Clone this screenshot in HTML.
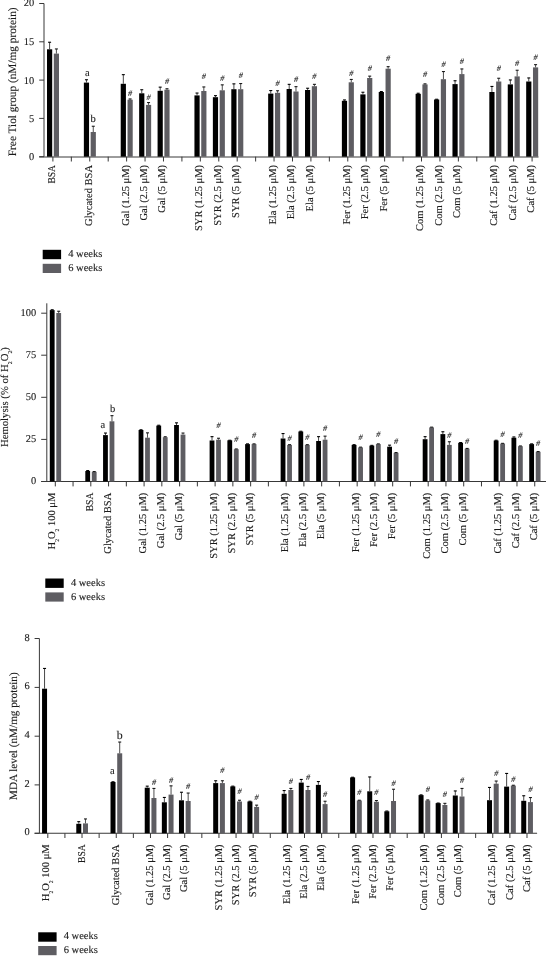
<!DOCTYPE html>
<html><head><meta charset="utf-8"><style>
html,body{margin:0;padding:0;background:#fff;}
svg{display:block;filter:blur(0.35px);}
text{font-family:"Liberation Serif", serif;stroke:#222;stroke-width:0.12px;text-rendering:geometricPrecision;}
</style></head><body>
<svg width="546" height="956" viewBox="0 0 546 956">
<rect width="546" height="956" fill="#fff"/>
<path d="M44.0 3.5V156.7" stroke="#383838" stroke-width="1"/>
<path d="M39.2 157.0H538.5" stroke="#383838" stroke-width="1"/>
<path d="M39.2 156.7H44.0" stroke="#383838" stroke-width="1"/>
<text x="34.2" y="160.3" font-size="10.4" text-anchor="end" fill="#1a1a1a">0</text>
<path d="M39.2 118.4H44.0" stroke="#383838" stroke-width="1"/>
<text x="34.2" y="122" font-size="10.4" text-anchor="end" fill="#1a1a1a">5</text>
<path d="M39.2 80.1H44.0" stroke="#383838" stroke-width="1"/>
<text x="34.2" y="83.7" font-size="10.4" text-anchor="end" fill="#1a1a1a">10</text>
<path d="M39.2 41.8H44.0" stroke="#383838" stroke-width="1"/>
<text x="34.2" y="45.4" font-size="10.4" text-anchor="end" fill="#1a1a1a">15</text>
<path d="M39.2 3.5H44.0" stroke="#383838" stroke-width="1"/>
<text x="34.2" y="5.6" font-size="10.4" text-anchor="end" fill="#1a1a1a">20</text>
<text transform="translate(15.8,81.8) rotate(-90)" text-anchor="middle" font-size="11.3" fill="#1a1a1a">Free Tiol group (nM/mg protein)</text>
<path d="M52.9 156.7V161.5" stroke="#383838" stroke-width="1"/>
<path d="M71.33 156.7V161.5" stroke="#383838" stroke-width="1"/>
<path d="M89.76 156.7V161.5" stroke="#383838" stroke-width="1"/>
<path d="M108.19 156.7V161.5" stroke="#383838" stroke-width="1"/>
<path d="M126.62 156.7V161.5" stroke="#383838" stroke-width="1"/>
<path d="M145.05 156.7V161.5" stroke="#383838" stroke-width="1"/>
<path d="M163.48 156.7V161.5" stroke="#383838" stroke-width="1"/>
<path d="M181.91 156.7V161.5" stroke="#383838" stroke-width="1"/>
<path d="M200.34 156.7V161.5" stroke="#383838" stroke-width="1"/>
<path d="M218.77 156.7V161.5" stroke="#383838" stroke-width="1"/>
<path d="M237.2 156.7V161.5" stroke="#383838" stroke-width="1"/>
<path d="M255.63 156.7V161.5" stroke="#383838" stroke-width="1"/>
<path d="M274.06 156.7V161.5" stroke="#383838" stroke-width="1"/>
<path d="M292.49 156.7V161.5" stroke="#383838" stroke-width="1"/>
<path d="M310.92 156.7V161.5" stroke="#383838" stroke-width="1"/>
<path d="M329.35 156.7V161.5" stroke="#383838" stroke-width="1"/>
<path d="M347.78 156.7V161.5" stroke="#383838" stroke-width="1"/>
<path d="M366.21 156.7V161.5" stroke="#383838" stroke-width="1"/>
<path d="M384.64 156.7V161.5" stroke="#383838" stroke-width="1"/>
<path d="M403.07 156.7V161.5" stroke="#383838" stroke-width="1"/>
<path d="M421.5 156.7V161.5" stroke="#383838" stroke-width="1"/>
<path d="M439.93 156.7V161.5" stroke="#383838" stroke-width="1"/>
<path d="M458.36 156.7V161.5" stroke="#383838" stroke-width="1"/>
<path d="M476.79 156.7V161.5" stroke="#383838" stroke-width="1"/>
<path d="M495.22 156.7V161.5" stroke="#383838" stroke-width="1"/>
<path d="M513.65 156.7V161.5" stroke="#383838" stroke-width="1"/>
<path d="M532.08 156.7V161.5" stroke="#383838" stroke-width="1"/>
<rect x="47" y="49.3" width="5.2" height="107.4" fill="#000"/>
<path d="M49.6 49.3V42.25" stroke="#333" stroke-width="0.9" fill="none"/>
<path d="M48.1 42.25H51.1" stroke="#000" stroke-width="1.1" fill="none"/>
<rect x="53.8" y="53.6" width="5.2" height="103.1" fill="#5e5d62"/>
<path d="M56.4 53.6V48.95" stroke="#3a3a3a" stroke-width="0.9" fill="none"/>
<path d="M54.9 48.95H57.9" stroke="#1a1a1a" stroke-width="1.1" fill="none"/>
<rect x="83.86" y="82.6" width="5.2" height="74.1" fill="#000"/>
<path d="M86.46 82.6V79.75" stroke="#333" stroke-width="0.9" fill="none"/>
<path d="M84.96 79.75H87.96" stroke="#000" stroke-width="1.1" fill="none"/>
<rect x="90.66" y="132" width="5.2" height="24.7" fill="#5e5d62"/>
<path d="M93.26 132V126.25" stroke="#3a3a3a" stroke-width="0.9" fill="none"/>
<path d="M91.76 126.25H94.76" stroke="#1a1a1a" stroke-width="1.1" fill="none"/>
<rect x="120.72" y="83.8" width="5.2" height="72.9" fill="#000"/>
<path d="M123.32 83.8V74.65" stroke="#333" stroke-width="0.9" fill="none"/>
<path d="M121.82 74.65H124.82" stroke="#000" stroke-width="1.1" fill="none"/>
<rect x="127.52" y="99.7" width="5.2" height="57" fill="#5e5d62"/>
<path d="M130.12 99.7V98.95" stroke="#3a3a3a" stroke-width="0.9" fill="none"/>
<path d="M128.62 98.95H131.62" stroke="#1a1a1a" stroke-width="1.1" fill="none"/>
<text x="130.12" y="95.6" font-size="8.2" text-anchor="middle" font-style="italic" fill="#2a2a2a" stroke="none">#</text>
<rect x="139.15" y="93.3" width="5.2" height="63.4" fill="#000"/>
<path d="M141.75 93.3V89.75" stroke="#333" stroke-width="0.9" fill="none"/>
<path d="M140.25 89.75H143.25" stroke="#000" stroke-width="1.1" fill="none"/>
<rect x="145.95" y="104.9" width="5.2" height="51.8" fill="#5e5d62"/>
<path d="M148.55 104.9V102.55" stroke="#3a3a3a" stroke-width="0.9" fill="none"/>
<path d="M147.05 102.55H150.05" stroke="#1a1a1a" stroke-width="1.1" fill="none"/>
<text x="148.55" y="99.8" font-size="8.2" text-anchor="middle" font-style="italic" fill="#2a2a2a" stroke="none">#</text>
<rect x="157.58" y="90.8" width="5.2" height="65.9" fill="#000"/>
<path d="M160.18 90.8V87.15" stroke="#333" stroke-width="0.9" fill="none"/>
<path d="M158.68 87.15H161.68" stroke="#000" stroke-width="1.1" fill="none"/>
<rect x="164.38" y="89.7" width="5.2" height="67" fill="#5e5d62"/>
<path d="M166.98 89.7V88.75" stroke="#3a3a3a" stroke-width="0.9" fill="none"/>
<path d="M165.48 88.75H168.48" stroke="#1a1a1a" stroke-width="1.1" fill="none"/>
<text x="166.98" y="83.8" font-size="8.2" text-anchor="middle" font-style="italic" fill="#2a2a2a" stroke="none">#</text>
<rect x="194.44" y="95.4" width="5.2" height="61.3" fill="#000"/>
<path d="M197.04 95.4V93.05" stroke="#333" stroke-width="0.9" fill="none"/>
<path d="M195.54 93.05H198.54" stroke="#000" stroke-width="1.1" fill="none"/>
<rect x="201.24" y="91" width="5.2" height="65.7" fill="#5e5d62"/>
<path d="M203.84 91V86.95" stroke="#3a3a3a" stroke-width="0.9" fill="none"/>
<path d="M202.34 86.95H205.34" stroke="#1a1a1a" stroke-width="1.1" fill="none"/>
<text x="203.84" y="79.2" font-size="8.2" text-anchor="middle" font-style="italic" fill="#2a2a2a" stroke="none">#</text>
<rect x="212.87" y="97.2" width="5.2" height="59.5" fill="#000"/>
<path d="M215.47 97.2V95.65" stroke="#333" stroke-width="0.9" fill="none"/>
<path d="M213.97 95.65H216.97" stroke="#000" stroke-width="1.1" fill="none"/>
<rect x="219.67" y="90.3" width="5.2" height="66.4" fill="#5e5d62"/>
<path d="M222.27 90.3V84.85" stroke="#3a3a3a" stroke-width="0.9" fill="none"/>
<path d="M220.77 84.85H223.77" stroke="#1a1a1a" stroke-width="1.1" fill="none"/>
<text x="222.27" y="81" font-size="8.2" text-anchor="middle" font-style="italic" fill="#2a2a2a" stroke="none">#</text>
<rect x="231.3" y="89.2" width="5.2" height="67.5" fill="#000"/>
<path d="M233.9 89.2V83.85" stroke="#333" stroke-width="0.9" fill="none"/>
<path d="M232.4 83.85H235.4" stroke="#000" stroke-width="1.1" fill="none"/>
<rect x="238.1" y="89.2" width="5.2" height="67.5" fill="#5e5d62"/>
<path d="M240.7 89.2V83.55" stroke="#3a3a3a" stroke-width="0.9" fill="none"/>
<path d="M239.2 83.55H242.2" stroke="#1a1a1a" stroke-width="1.1" fill="none"/>
<text x="240.7" y="78.4" font-size="8.2" text-anchor="middle" font-style="italic" fill="#2a2a2a" stroke="none">#</text>
<rect x="268.16" y="93.6" width="5.2" height="63.1" fill="#000"/>
<path d="M270.76 93.6V90.55" stroke="#333" stroke-width="0.9" fill="none"/>
<path d="M269.26 90.55H272.26" stroke="#000" stroke-width="1.1" fill="none"/>
<rect x="274.96" y="92.8" width="5.2" height="63.9" fill="#5e5d62"/>
<path d="M277.56 92.8V90.75" stroke="#3a3a3a" stroke-width="0.9" fill="none"/>
<path d="M276.06 90.75H279.06" stroke="#1a1a1a" stroke-width="1.1" fill="none"/>
<text x="277.56" y="86.1" font-size="8.2" text-anchor="middle" font-style="italic" fill="#2a2a2a" stroke="none">#</text>
<rect x="286.59" y="89" width="5.2" height="67.7" fill="#000"/>
<path d="M289.19 89V84.35" stroke="#333" stroke-width="0.9" fill="none"/>
<path d="M287.69 84.35H290.69" stroke="#000" stroke-width="1.1" fill="none"/>
<rect x="293.39" y="91.5" width="5.2" height="65.2" fill="#5e5d62"/>
<path d="M295.99 91.5V86.65" stroke="#3a3a3a" stroke-width="0.9" fill="none"/>
<path d="M294.49 86.65H297.49" stroke="#1a1a1a" stroke-width="1.1" fill="none"/>
<text x="295.99" y="81.8" font-size="8.2" text-anchor="middle" font-style="italic" fill="#2a2a2a" stroke="none">#</text>
<rect x="305.02" y="90" width="5.2" height="66.7" fill="#000"/>
<path d="M307.62 90V88.25" stroke="#333" stroke-width="0.9" fill="none"/>
<path d="M306.12 88.25H309.12" stroke="#000" stroke-width="1.1" fill="none"/>
<rect x="311.82" y="86.2" width="5.2" height="70.5" fill="#5e5d62"/>
<path d="M314.42 86.2V84.35" stroke="#3a3a3a" stroke-width="0.9" fill="none"/>
<path d="M312.92 84.35H315.92" stroke="#1a1a1a" stroke-width="1.1" fill="none"/>
<text x="314.42" y="78.7" font-size="8.2" text-anchor="middle" font-style="italic" fill="#2a2a2a" stroke="none">#</text>
<rect x="341.88" y="100.8" width="5.2" height="55.9" fill="#000"/>
<path d="M344.48 100.8V99.95" stroke="#333" stroke-width="0.9" fill="none"/>
<path d="M342.98 99.95H345.98" stroke="#000" stroke-width="1.1" fill="none"/>
<rect x="348.68" y="82.3" width="5.2" height="74.4" fill="#5e5d62"/>
<path d="M351.28 82.3V79.45" stroke="#3a3a3a" stroke-width="0.9" fill="none"/>
<path d="M349.78 79.45H352.78" stroke="#1a1a1a" stroke-width="1.1" fill="none"/>
<text x="351.28" y="76.1" font-size="8.2" text-anchor="middle" font-style="italic" fill="#2a2a2a" stroke="none">#</text>
<rect x="360.31" y="94.4" width="5.2" height="62.3" fill="#000"/>
<path d="M362.91 94.4V92.25" stroke="#333" stroke-width="0.9" fill="none"/>
<path d="M361.41 92.25H364.41" stroke="#000" stroke-width="1.1" fill="none"/>
<rect x="367.11" y="78" width="5.2" height="78.7" fill="#5e5d62"/>
<path d="M369.71 78V76.15" stroke="#3a3a3a" stroke-width="0.9" fill="none"/>
<path d="M368.21 76.15H371.21" stroke="#1a1a1a" stroke-width="1.1" fill="none"/>
<text x="369.71" y="70.5" font-size="8.2" text-anchor="middle" font-style="italic" fill="#2a2a2a" stroke="none">#</text>
<rect x="378.74" y="92" width="5.2" height="64.7" fill="#000"/>
<path d="M381.34 92V91.55" stroke="#333" stroke-width="0.9" fill="none"/>
<path d="M379.84 91.55H382.84" stroke="#000" stroke-width="1.1" fill="none"/>
<rect x="385.54" y="68.7" width="5.2" height="88" fill="#5e5d62"/>
<path d="M388.14 68.7V66.65" stroke="#3a3a3a" stroke-width="0.9" fill="none"/>
<path d="M386.64 66.65H389.64" stroke="#1a1a1a" stroke-width="1.1" fill="none"/>
<text x="388.14" y="61.3" font-size="8.2" text-anchor="middle" font-style="italic" fill="#2a2a2a" stroke="none">#</text>
<rect x="415.6" y="93.8" width="5.2" height="62.9" fill="#000"/>
<path d="M418.2 93.8V93.25" stroke="#333" stroke-width="0.9" fill="none"/>
<path d="M416.7 93.25H419.7" stroke="#000" stroke-width="1.1" fill="none"/>
<rect x="422.4" y="84.4" width="5.2" height="72.3" fill="#5e5d62"/>
<path d="M425 84.4V83.85" stroke="#3a3a3a" stroke-width="0.9" fill="none"/>
<path d="M423.5 83.85H426.5" stroke="#1a1a1a" stroke-width="1.1" fill="none"/>
<text x="425" y="76.6" font-size="8.2" text-anchor="middle" font-style="italic" fill="#2a2a2a" stroke="none">#</text>
<rect x="434.03" y="99.5" width="5.2" height="57.2" fill="#000"/>
<path d="M435.13 99.25H438.13" stroke="#000" stroke-width="1.1" fill="none"/>
<rect x="440.83" y="79.2" width="5.2" height="77.5" fill="#5e5d62"/>
<path d="M443.43 79.2V71.55" stroke="#3a3a3a" stroke-width="0.9" fill="none"/>
<path d="M441.93 71.55H444.93" stroke="#1a1a1a" stroke-width="1.1" fill="none"/>
<text x="443.43" y="66.6" font-size="8.2" text-anchor="middle" font-style="italic" fill="#2a2a2a" stroke="none">#</text>
<rect x="452.46" y="84.1" width="5.2" height="72.6" fill="#000"/>
<path d="M455.06 84.1V80.75" stroke="#333" stroke-width="0.9" fill="none"/>
<path d="M453.56 80.75H456.56" stroke="#000" stroke-width="1.1" fill="none"/>
<rect x="459.26" y="74.1" width="5.2" height="82.6" fill="#5e5d62"/>
<path d="M461.86 74.1V68.95" stroke="#3a3a3a" stroke-width="0.9" fill="none"/>
<path d="M460.36 68.95H463.36" stroke="#1a1a1a" stroke-width="1.1" fill="none"/>
<text x="461.86" y="63.8" font-size="8.2" text-anchor="middle" font-style="italic" fill="#2a2a2a" stroke="none">#</text>
<rect x="489.32" y="92" width="5.2" height="64.7" fill="#000"/>
<path d="M491.92 92V86.45" stroke="#333" stroke-width="0.9" fill="none"/>
<path d="M490.42 86.45H493.42" stroke="#000" stroke-width="1.1" fill="none"/>
<rect x="496.12" y="81.5" width="5.2" height="75.2" fill="#5e5d62"/>
<path d="M498.72 81.5V78.25" stroke="#3a3a3a" stroke-width="0.9" fill="none"/>
<path d="M497.22 78.25H500.22" stroke="#1a1a1a" stroke-width="1.1" fill="none"/>
<text x="498.72" y="71" font-size="8.2" text-anchor="middle" font-style="italic" fill="#2a2a2a" stroke="none">#</text>
<rect x="507.75" y="84.4" width="5.2" height="72.3" fill="#000"/>
<path d="M510.35 84.4V79.95" stroke="#333" stroke-width="0.9" fill="none"/>
<path d="M508.85 79.95H511.85" stroke="#000" stroke-width="1.1" fill="none"/>
<rect x="514.55" y="76.4" width="5.2" height="80.3" fill="#5e5d62"/>
<path d="M517.15 76.4V70.25" stroke="#3a3a3a" stroke-width="0.9" fill="none"/>
<path d="M515.65 70.25H518.65" stroke="#1a1a1a" stroke-width="1.1" fill="none"/>
<text x="517.15" y="65.8" font-size="8.2" text-anchor="middle" font-style="italic" fill="#2a2a2a" stroke="none">#</text>
<rect x="526.18" y="81.5" width="5.2" height="75.2" fill="#000"/>
<path d="M528.78 81.5V77.95" stroke="#333" stroke-width="0.9" fill="none"/>
<path d="M527.28 77.95H530.28" stroke="#000" stroke-width="1.1" fill="none"/>
<rect x="532.98" y="67.4" width="5.2" height="89.3" fill="#5e5d62"/>
<path d="M535.58 67.4V64.65" stroke="#3a3a3a" stroke-width="0.9" fill="none"/>
<path d="M534.08 64.65H537.08" stroke="#1a1a1a" stroke-width="1.1" fill="none"/>
<text x="535.58" y="60.2" font-size="8.2" text-anchor="middle" font-style="italic" fill="#2a2a2a" stroke="none">#</text>
<text x="87.4" y="76" font-size="10.5" text-anchor="middle" fill="#1a1a1a">a</text>
<text x="93.2" y="121.5" font-size="10.5" text-anchor="middle" fill="#1a1a1a">b</text>
<text transform="translate(54.8,165) rotate(-90)" text-anchor="end" font-size="10.5" fill="#1a1a1a" textLength="18.6" lengthAdjust="spacingAndGlyphs">BSA</text>
<text transform="translate(91.66,165) rotate(-90)" text-anchor="end" font-size="10.5" fill="#1a1a1a">Glycated BSA</text>
<text transform="translate(128.52,165) rotate(-90)" text-anchor="end" font-size="10.5" fill="#1a1a1a">Gal (1.25 μM)</text>
<text transform="translate(146.95,165) rotate(-90)" text-anchor="end" font-size="10.5" fill="#1a1a1a">Gal (2.5 μM)</text>
<text transform="translate(165.38,165) rotate(-90)" text-anchor="end" font-size="10.5" fill="#1a1a1a">Gal (5 μM)</text>
<text transform="translate(202.24,165) rotate(-90)" text-anchor="end" font-size="10.5" fill="#1a1a1a">SYR (1.25 μM)</text>
<text transform="translate(220.67,165) rotate(-90)" text-anchor="end" font-size="10.5" fill="#1a1a1a">SYR (2.5 μM)</text>
<text transform="translate(239.1,165) rotate(-90)" text-anchor="end" font-size="10.5" fill="#1a1a1a">SYR (5 μM)</text>
<text transform="translate(275.96,165) rotate(-90)" text-anchor="end" font-size="10.5" fill="#1a1a1a">Ela (1.25 μM)</text>
<text transform="translate(294.39,165) rotate(-90)" text-anchor="end" font-size="10.5" fill="#1a1a1a">Ela (2.5 μM)</text>
<text transform="translate(312.82,165) rotate(-90)" text-anchor="end" font-size="10.5" fill="#1a1a1a">Ela (5 μM)</text>
<text transform="translate(349.68,165) rotate(-90)" text-anchor="end" font-size="10.5" fill="#1a1a1a">Fer (1.25 μM)</text>
<text transform="translate(368.11,165) rotate(-90)" text-anchor="end" font-size="10.5" fill="#1a1a1a">Fer (2.5 μM)</text>
<text transform="translate(386.54,165) rotate(-90)" text-anchor="end" font-size="10.5" fill="#1a1a1a">Fer (5 μM)</text>
<text transform="translate(423.4,165) rotate(-90)" text-anchor="end" font-size="10.5" fill="#1a1a1a">Com (1.25 μM)</text>
<text transform="translate(441.83,165) rotate(-90)" text-anchor="end" font-size="10.5" fill="#1a1a1a">Com (2.5 μM)</text>
<text transform="translate(460.26,165) rotate(-90)" text-anchor="end" font-size="10.5" fill="#1a1a1a">Com (5 μM)</text>
<text transform="translate(497.12,165) rotate(-90)" text-anchor="end" font-size="10.5" fill="#1a1a1a">Caf (1.25 μM)</text>
<text transform="translate(515.55,165) rotate(-90)" text-anchor="end" font-size="10.5" fill="#1a1a1a">Caf (2.5 μM)</text>
<text transform="translate(533.98,165) rotate(-90)" text-anchor="end" font-size="10.5" fill="#1a1a1a">Caf (5 μM)</text>
<rect x="42.7" y="249.8" width="18.4" height="9.4" fill="#000"/>
<rect x="42.7" y="263.8" width="18.4" height="9.2" fill="#5e5d62"/>
<text x="68.2" y="257.4" font-size="10.5" fill="#1a1a1a">4 weeks</text>
<text x="68.2" y="271" font-size="10.5" fill="#1a1a1a">6 weeks</text>
<path d="M46.8 303.3V481.5" stroke="#383838" stroke-width="1"/>
<path d="M41.2 481.5H546" stroke="#383838" stroke-width="1.1"/>
<path d="M41.2 481.5H46.8" stroke="#383838" stroke-width="1"/>
<text x="36.2" y="483.8" font-size="10.4" text-anchor="end" fill="#1a1a1a">0</text>
<path d="M41.2 439.4H46.8" stroke="#383838" stroke-width="1"/>
<text x="36.2" y="441.7" font-size="10.4" text-anchor="end" fill="#1a1a1a">25</text>
<path d="M41.2 397.3H46.8" stroke="#383838" stroke-width="1"/>
<text x="36.2" y="399.6" font-size="10.4" text-anchor="end" fill="#1a1a1a">50</text>
<path d="M41.2 355.2H46.8" stroke="#383838" stroke-width="1"/>
<text x="36.2" y="357.5" font-size="10.4" text-anchor="end" fill="#1a1a1a">75</text>
<path d="M41.2 313.2H46.8" stroke="#383838" stroke-width="1"/>
<text x="36.2" y="315.5" font-size="10.4" text-anchor="end" fill="#1a1a1a">100</text>
<text transform="translate(8.4,397.1) rotate(-90)" text-anchor="middle" font-size="10.7" fill="#1a1a1a">Hemolysis (% of H<tspan font-size="5.8" dy="3.9">2</tspan><tspan dy="-3.9">O</tspan><tspan font-size="5.8" dy="3.9">2</tspan><tspan dy="-3.9">)</tspan></text>
<path d="M55.3 481.5V486.4" stroke="#383838" stroke-width="1"/>
<path d="M73.06 481.5V486.4" stroke="#383838" stroke-width="1"/>
<path d="M90.81 481.5V486.4" stroke="#383838" stroke-width="1"/>
<path d="M108.57 481.5V486.4" stroke="#383838" stroke-width="1"/>
<path d="M126.33 481.5V486.4" stroke="#383838" stroke-width="1"/>
<path d="M144.09 481.5V486.4" stroke="#383838" stroke-width="1"/>
<path d="M161.84 481.5V486.4" stroke="#383838" stroke-width="1"/>
<path d="M179.6 481.5V486.4" stroke="#383838" stroke-width="1"/>
<path d="M197.36 481.5V486.4" stroke="#383838" stroke-width="1"/>
<path d="M215.11 481.5V486.4" stroke="#383838" stroke-width="1"/>
<path d="M232.87 481.5V486.4" stroke="#383838" stroke-width="1"/>
<path d="M250.63 481.5V486.4" stroke="#383838" stroke-width="1"/>
<path d="M268.38 481.5V486.4" stroke="#383838" stroke-width="1"/>
<path d="M286.14 481.5V486.4" stroke="#383838" stroke-width="1"/>
<path d="M303.9 481.5V486.4" stroke="#383838" stroke-width="1"/>
<path d="M321.66 481.5V486.4" stroke="#383838" stroke-width="1"/>
<path d="M339.41 481.5V486.4" stroke="#383838" stroke-width="1"/>
<path d="M357.17 481.5V486.4" stroke="#383838" stroke-width="1"/>
<path d="M374.93 481.5V486.4" stroke="#383838" stroke-width="1"/>
<path d="M392.68 481.5V486.4" stroke="#383838" stroke-width="1"/>
<path d="M410.44 481.5V486.4" stroke="#383838" stroke-width="1"/>
<path d="M428.2 481.5V486.4" stroke="#383838" stroke-width="1"/>
<path d="M445.95 481.5V486.4" stroke="#383838" stroke-width="1"/>
<path d="M463.71 481.5V486.4" stroke="#383838" stroke-width="1"/>
<path d="M481.47 481.5V486.4" stroke="#383838" stroke-width="1"/>
<path d="M499.23 481.5V486.4" stroke="#383838" stroke-width="1"/>
<path d="M516.98 481.5V486.4" stroke="#383838" stroke-width="1"/>
<path d="M534.74 481.5V486.4" stroke="#383838" stroke-width="1"/>
<rect x="49.8" y="310.1" width="4.8" height="171.4" fill="#000"/>
<path d="M52.2 310.1V309.75" stroke="#333" stroke-width="0.9" fill="none"/>
<path d="M50.7 309.75H53.7" stroke="#000" stroke-width="1.1" fill="none"/>
<rect x="56.3" y="313" width="4.8" height="168.5" fill="#5e5d62"/>
<path d="M58.7 313V311.25" stroke="#3a3a3a" stroke-width="0.9" fill="none"/>
<path d="M57.2 311.25H60.2" stroke="#1a1a1a" stroke-width="1.1" fill="none"/>
<rect x="85.31" y="471" width="4.8" height="10.5" fill="#000"/>
<path d="M87.71 471V470.55" stroke="#333" stroke-width="0.9" fill="none"/>
<path d="M86.21 470.55H89.21" stroke="#000" stroke-width="1.1" fill="none"/>
<rect x="91.81" y="471.8" width="4.8" height="9.7" fill="#5e5d62"/>
<path d="M92.71 471.55H95.71" stroke="#1a1a1a" stroke-width="1.1" fill="none"/>
<rect x="103.07" y="435.1" width="4.8" height="46.4" fill="#000"/>
<path d="M105.47 435.1V433.05" stroke="#333" stroke-width="0.9" fill="none"/>
<path d="M103.97 433.05H106.97" stroke="#000" stroke-width="1.1" fill="none"/>
<rect x="109.57" y="421.3" width="4.8" height="60.2" fill="#5e5d62"/>
<path d="M111.97 421.3V415.65" stroke="#3a3a3a" stroke-width="0.9" fill="none"/>
<path d="M110.47 415.65H113.47" stroke="#1a1a1a" stroke-width="1.1" fill="none"/>
<rect x="138.59" y="430" width="4.8" height="51.5" fill="#000"/>
<path d="M139.49 429.75H142.49" stroke="#000" stroke-width="1.1" fill="none"/>
<rect x="145.09" y="437.7" width="4.8" height="43.8" fill="#5e5d62"/>
<path d="M147.49 437.7V432.85" stroke="#3a3a3a" stroke-width="0.9" fill="none"/>
<path d="M145.99 432.85H148.99" stroke="#1a1a1a" stroke-width="1.1" fill="none"/>
<rect x="156.34" y="425.6" width="4.8" height="55.9" fill="#000"/>
<path d="M158.74 425.6V425.25" stroke="#333" stroke-width="0.9" fill="none"/>
<path d="M157.24 425.25H160.24" stroke="#000" stroke-width="1.1" fill="none"/>
<rect x="162.84" y="437.2" width="4.8" height="44.3" fill="#5e5d62"/>
<path d="M165.24 437.2V436.75" stroke="#3a3a3a" stroke-width="0.9" fill="none"/>
<path d="M163.74 436.75H166.74" stroke="#1a1a1a" stroke-width="1.1" fill="none"/>
<rect x="174.1" y="425" width="4.8" height="56.5" fill="#000"/>
<path d="M176.5 425V422.85" stroke="#333" stroke-width="0.9" fill="none"/>
<path d="M175 422.85H178" stroke="#000" stroke-width="1.1" fill="none"/>
<rect x="180.6" y="434.6" width="4.8" height="46.9" fill="#5e5d62"/>
<path d="M183 434.6V433.05" stroke="#3a3a3a" stroke-width="0.9" fill="none"/>
<path d="M181.5 433.05H184.5" stroke="#1a1a1a" stroke-width="1.1" fill="none"/>
<rect x="209.61" y="440.5" width="4.8" height="41" fill="#000"/>
<path d="M212.01 440.5V436.65" stroke="#333" stroke-width="0.9" fill="none"/>
<path d="M210.51 436.65H213.51" stroke="#000" stroke-width="1.1" fill="none"/>
<rect x="216.11" y="439.7" width="4.8" height="41.8" fill="#5e5d62"/>
<path d="M218.51 439.7V438.25" stroke="#3a3a3a" stroke-width="0.9" fill="none"/>
<path d="M217.01 438.25H220.01" stroke="#1a1a1a" stroke-width="1.1" fill="none"/>
<text x="218.51" y="427.7" font-size="8.2" text-anchor="middle" font-style="italic" fill="#2a2a2a" stroke="none">#</text>
<rect x="227.37" y="440.3" width="4.8" height="41.2" fill="#000"/>
<path d="M228.27 440.25H231.27" stroke="#000" stroke-width="1.1" fill="none"/>
<rect x="233.87" y="449.2" width="4.8" height="32.3" fill="#5e5d62"/>
<path d="M234.77 448.95H237.77" stroke="#1a1a1a" stroke-width="1.1" fill="none"/>
<text x="236.27" y="442" font-size="8.2" text-anchor="middle" font-style="italic" fill="#2a2a2a" stroke="none">#</text>
<rect x="245.13" y="444.1" width="4.8" height="37.4" fill="#000"/>
<path d="M246.03 443.85H249.03" stroke="#000" stroke-width="1.1" fill="none"/>
<rect x="251.63" y="444.1" width="4.8" height="37.4" fill="#5e5d62"/>
<path d="M252.53 443.85H255.53" stroke="#1a1a1a" stroke-width="1.1" fill="none"/>
<text x="254.03" y="438.2" font-size="8.2" text-anchor="middle" font-style="italic" fill="#2a2a2a" stroke="none">#</text>
<rect x="280.64" y="438.5" width="4.8" height="43" fill="#000"/>
<path d="M283.04 438.5V433.55" stroke="#333" stroke-width="0.9" fill="none"/>
<path d="M281.54 433.55H284.54" stroke="#000" stroke-width="1.1" fill="none"/>
<rect x="287.14" y="444.9" width="4.8" height="36.6" fill="#5e5d62"/>
<path d="M288.04 444.65H291.04" stroke="#1a1a1a" stroke-width="1.1" fill="none"/>
<text x="289.54" y="440.5" font-size="8.2" text-anchor="middle" font-style="italic" fill="#2a2a2a" stroke="none">#</text>
<rect x="298.4" y="431.5" width="4.8" height="50" fill="#000"/>
<path d="M299.3 431.25H302.3" stroke="#000" stroke-width="1.1" fill="none"/>
<rect x="304.9" y="444.9" width="4.8" height="36.6" fill="#5e5d62"/>
<path d="M305.8 444.65H308.8" stroke="#1a1a1a" stroke-width="1.1" fill="none"/>
<text x="307.3" y="439.5" font-size="8.2" text-anchor="middle" font-style="italic" fill="#2a2a2a" stroke="none">#</text>
<rect x="316.16" y="441" width="4.8" height="40.5" fill="#000"/>
<path d="M318.56 441V436.65" stroke="#333" stroke-width="0.9" fill="none"/>
<path d="M317.06 436.65H320.06" stroke="#000" stroke-width="1.1" fill="none"/>
<rect x="322.66" y="439.7" width="4.8" height="41.8" fill="#5e5d62"/>
<path d="M325.06 439.7V436.15" stroke="#3a3a3a" stroke-width="0.9" fill="none"/>
<path d="M323.56 436.15H326.56" stroke="#1a1a1a" stroke-width="1.1" fill="none"/>
<text x="325.06" y="430.5" font-size="8.2" text-anchor="middle" font-style="italic" fill="#2a2a2a" stroke="none">#</text>
<rect x="351.67" y="444.9" width="4.8" height="36.6" fill="#000"/>
<path d="M352.57 444.65H355.57" stroke="#000" stroke-width="1.1" fill="none"/>
<rect x="358.17" y="447.4" width="4.8" height="34.1" fill="#5e5d62"/>
<path d="M359.07 447.15H362.07" stroke="#1a1a1a" stroke-width="1.1" fill="none"/>
<text x="360.57" y="440" font-size="8.2" text-anchor="middle" font-style="italic" fill="#2a2a2a" stroke="none">#</text>
<rect x="369.43" y="445.6" width="4.8" height="35.9" fill="#000"/>
<path d="M370.33 445.35H373.33" stroke="#000" stroke-width="1.1" fill="none"/>
<rect x="375.93" y="444.1" width="4.8" height="37.4" fill="#5e5d62"/>
<path d="M376.83 443.85H379.83" stroke="#1a1a1a" stroke-width="1.1" fill="none"/>
<text x="378.33" y="436.6" font-size="8.2" text-anchor="middle" font-style="italic" fill="#2a2a2a" stroke="none">#</text>
<rect x="387.18" y="446.7" width="4.8" height="34.8" fill="#000"/>
<path d="M389.58 446.7V445.15" stroke="#333" stroke-width="0.9" fill="none"/>
<path d="M388.08 445.15H391.08" stroke="#000" stroke-width="1.1" fill="none"/>
<rect x="393.68" y="452.8" width="4.8" height="28.7" fill="#5e5d62"/>
<path d="M394.58 452.55H397.58" stroke="#1a1a1a" stroke-width="1.1" fill="none"/>
<text x="396.08" y="443.8" font-size="8.2" text-anchor="middle" font-style="italic" fill="#2a2a2a" stroke="none">#</text>
<rect x="422.7" y="439.2" width="4.8" height="42.3" fill="#000"/>
<path d="M425.1 439.2V436.65" stroke="#333" stroke-width="0.9" fill="none"/>
<path d="M423.6 436.65H426.6" stroke="#000" stroke-width="1.1" fill="none"/>
<rect x="429.2" y="427.4" width="4.8" height="54.1" fill="#5e5d62"/>
<path d="M430.1 427.15H433.1" stroke="#1a1a1a" stroke-width="1.1" fill="none"/>
<rect x="440.45" y="434.1" width="4.8" height="47.4" fill="#000"/>
<path d="M442.85 434.1V431.75" stroke="#333" stroke-width="0.9" fill="none"/>
<path d="M441.35 431.75H444.35" stroke="#000" stroke-width="1.1" fill="none"/>
<rect x="446.95" y="444.9" width="4.8" height="36.6" fill="#5e5d62"/>
<path d="M449.35 444.9V441.75" stroke="#3a3a3a" stroke-width="0.9" fill="none"/>
<path d="M447.85 441.75H450.85" stroke="#1a1a1a" stroke-width="1.1" fill="none"/>
<text x="449.35" y="438.2" font-size="8.2" text-anchor="middle" font-style="italic" fill="#2a2a2a" stroke="none">#</text>
<rect x="458.21" y="442.8" width="4.8" height="38.7" fill="#000"/>
<path d="M459.11 442.55H462.11" stroke="#000" stroke-width="1.1" fill="none"/>
<rect x="464.71" y="448.7" width="4.8" height="32.8" fill="#5e5d62"/>
<path d="M465.61 448.45H468.61" stroke="#1a1a1a" stroke-width="1.1" fill="none"/>
<text x="467.11" y="443.8" font-size="8.2" text-anchor="middle" font-style="italic" fill="#2a2a2a" stroke="none">#</text>
<rect x="493.73" y="440.5" width="4.8" height="41" fill="#000"/>
<path d="M494.62 440.25H497.62" stroke="#000" stroke-width="1.1" fill="none"/>
<rect x="500.23" y="443.6" width="4.8" height="37.9" fill="#5e5d62"/>
<path d="M501.12 443.35H504.12" stroke="#1a1a1a" stroke-width="1.1" fill="none"/>
<text x="502.62" y="437.4" font-size="8.2" text-anchor="middle" font-style="italic" fill="#2a2a2a" stroke="none">#</text>
<rect x="511.48" y="437.7" width="4.8" height="43.8" fill="#000"/>
<path d="M513.88 437.7V436.95" stroke="#333" stroke-width="0.9" fill="none"/>
<path d="M512.38 436.95H515.38" stroke="#000" stroke-width="1.1" fill="none"/>
<rect x="517.98" y="446.2" width="4.8" height="35.3" fill="#5e5d62"/>
<path d="M518.88 445.95H521.88" stroke="#1a1a1a" stroke-width="1.1" fill="none"/>
<text x="520.38" y="437.9" font-size="8.2" text-anchor="middle" font-style="italic" fill="#2a2a2a" stroke="none">#</text>
<rect x="529.24" y="444.1" width="4.8" height="37.4" fill="#000"/>
<path d="M530.14 443.85H533.14" stroke="#000" stroke-width="1.1" fill="none"/>
<rect x="535.74" y="451.8" width="4.8" height="29.7" fill="#5e5d62"/>
<path d="M536.64 451.55H539.64" stroke="#1a1a1a" stroke-width="1.1" fill="none"/>
<text x="538.14" y="445.9" font-size="8.2" text-anchor="middle" font-style="italic" fill="#2a2a2a" stroke="none">#</text>
<text x="102.8" y="428.3" font-size="10.5" text-anchor="middle" fill="#1a1a1a">a</text>
<text x="112.6" y="412" font-size="10.5" text-anchor="middle" fill="#1a1a1a">b</text>
<text transform="translate(55.1,492.7) rotate(-90)" text-anchor="end" font-size="10.5" fill="#1a1a1a">H<tspan font-size="5.6" dy="3.9">2</tspan><tspan dy="-3.9">O</tspan><tspan font-size="5.6" dy="3.9">2</tspan><tspan dy="-3.9"> 100 μM</tspan></text>
<text transform="translate(92.91,492.7) rotate(-90)" text-anchor="end" font-size="10.5" fill="#1a1a1a" textLength="18.6" lengthAdjust="spacingAndGlyphs">BSA</text>
<text transform="translate(110.67,492.7) rotate(-90)" text-anchor="end" font-size="10.5" fill="#1a1a1a">Glycated BSA</text>
<text transform="translate(146.19,492.7) rotate(-90)" text-anchor="end" font-size="10.5" fill="#1a1a1a">Gal (1.25 μM)</text>
<text transform="translate(163.94,492.7) rotate(-90)" text-anchor="end" font-size="10.5" fill="#1a1a1a">Gal (2.5 μM)</text>
<text transform="translate(181.7,492.7) rotate(-90)" text-anchor="end" font-size="10.5" fill="#1a1a1a">Gal (5 μM)</text>
<text transform="translate(217.21,492.7) rotate(-90)" text-anchor="end" font-size="10.5" fill="#1a1a1a">SYR (1.25 μM)</text>
<text transform="translate(234.97,492.7) rotate(-90)" text-anchor="end" font-size="10.5" fill="#1a1a1a">SYR (2.5 μM)</text>
<text transform="translate(252.73,492.7) rotate(-90)" text-anchor="end" font-size="10.5" fill="#1a1a1a">SYR (5 μM)</text>
<text transform="translate(288.24,492.7) rotate(-90)" text-anchor="end" font-size="10.5" fill="#1a1a1a">Ela (1.25 μM)</text>
<text transform="translate(306,492.7) rotate(-90)" text-anchor="end" font-size="10.5" fill="#1a1a1a">Ela (2.5 μM)</text>
<text transform="translate(323.76,492.7) rotate(-90)" text-anchor="end" font-size="10.5" fill="#1a1a1a">Ela (5 μM)</text>
<text transform="translate(359.27,492.7) rotate(-90)" text-anchor="end" font-size="10.5" fill="#1a1a1a">Fer (1.25 μM)</text>
<text transform="translate(377.03,492.7) rotate(-90)" text-anchor="end" font-size="10.5" fill="#1a1a1a">Fer (2.5 μM)</text>
<text transform="translate(394.78,492.7) rotate(-90)" text-anchor="end" font-size="10.5" fill="#1a1a1a">Fer (5 μM)</text>
<text transform="translate(430.3,492.7) rotate(-90)" text-anchor="end" font-size="10.5" fill="#1a1a1a">Com (1.25 μM)</text>
<text transform="translate(448.05,492.7) rotate(-90)" text-anchor="end" font-size="10.5" fill="#1a1a1a">Com (2.5 μM)</text>
<text transform="translate(465.81,492.7) rotate(-90)" text-anchor="end" font-size="10.5" fill="#1a1a1a">Com (5 μM)</text>
<text transform="translate(501.33,492.7) rotate(-90)" text-anchor="end" font-size="10.5" fill="#1a1a1a">Caf (1.25 μM)</text>
<text transform="translate(519.08,492.7) rotate(-90)" text-anchor="end" font-size="10.5" fill="#1a1a1a">Caf (2.5 μM)</text>
<text transform="translate(536.84,492.7) rotate(-90)" text-anchor="end" font-size="10.5" fill="#1a1a1a">Caf (5 μM)</text>
<rect x="45.3" y="578.5" width="18.4" height="9.4" fill="#000"/>
<rect x="45.3" y="592.4" width="18.4" height="9.2" fill="#5e5d62"/>
<text x="70.9" y="585.8" font-size="10.5" fill="#1a1a1a">4 weeks</text>
<text x="70.9" y="599.9" font-size="10.5" fill="#1a1a1a">6 weeks</text>
<path d="M39.4 638.5V833.3" stroke="#383838" stroke-width="1"/>
<path d="M34.6 833.3H537.1" stroke="#383838" stroke-width="1.1"/>
<path d="M34.6 833.3H39.4" stroke="#383838" stroke-width="1"/>
<text x="29.8" y="835.3" font-size="10.4" text-anchor="end" fill="#1a1a1a">0</text>
<path d="M34.6 784.9H39.4" stroke="#383838" stroke-width="1"/>
<text x="29.8" y="786.9" font-size="10.4" text-anchor="end" fill="#1a1a1a">2</text>
<path d="M34.6 736.2H39.4" stroke="#383838" stroke-width="1"/>
<text x="29.8" y="738.2" font-size="10.4" text-anchor="end" fill="#1a1a1a">4</text>
<path d="M34.6 687.4H39.4" stroke="#383838" stroke-width="1"/>
<text x="29.8" y="689.4" font-size="10.4" text-anchor="end" fill="#1a1a1a">6</text>
<path d="M34.6 638.5H39.4" stroke="#383838" stroke-width="1"/>
<text x="29.8" y="640.5" font-size="10.4" text-anchor="end" fill="#1a1a1a">8</text>
<text transform="translate(16.5,736.2) rotate(-90)" text-anchor="middle" font-size="11.2" fill="#1a1a1a">MDA level (nM/mg protein)</text>
<path d="M47.8 833.3V838" stroke="#383838" stroke-width="1"/>
<path d="M64.91 833.3V838" stroke="#383838" stroke-width="1"/>
<path d="M82.03 833.3V838" stroke="#383838" stroke-width="1"/>
<path d="M99.14 833.3V838" stroke="#383838" stroke-width="1"/>
<path d="M116.26 833.3V838" stroke="#383838" stroke-width="1"/>
<path d="M133.37 833.3V838" stroke="#383838" stroke-width="1"/>
<path d="M150.48 833.3V838" stroke="#383838" stroke-width="1"/>
<path d="M167.6 833.3V838" stroke="#383838" stroke-width="1"/>
<path d="M184.71 833.3V838" stroke="#383838" stroke-width="1"/>
<path d="M201.83 833.3V838" stroke="#383838" stroke-width="1"/>
<path d="M218.94 833.3V838" stroke="#383838" stroke-width="1"/>
<path d="M236.05 833.3V838" stroke="#383838" stroke-width="1"/>
<path d="M253.17 833.3V838" stroke="#383838" stroke-width="1"/>
<path d="M270.28 833.3V838" stroke="#383838" stroke-width="1"/>
<path d="M287.4 833.3V838" stroke="#383838" stroke-width="1"/>
<path d="M304.51 833.3V838" stroke="#383838" stroke-width="1"/>
<path d="M321.62 833.3V838" stroke="#383838" stroke-width="1"/>
<path d="M338.74 833.3V838" stroke="#383838" stroke-width="1"/>
<path d="M355.85 833.3V838" stroke="#383838" stroke-width="1"/>
<path d="M372.97 833.3V838" stroke="#383838" stroke-width="1"/>
<path d="M390.08 833.3V838" stroke="#383838" stroke-width="1"/>
<path d="M407.19 833.3V838" stroke="#383838" stroke-width="1"/>
<path d="M424.31 833.3V838" stroke="#383838" stroke-width="1"/>
<path d="M441.42 833.3V838" stroke="#383838" stroke-width="1"/>
<path d="M458.54 833.3V838" stroke="#383838" stroke-width="1"/>
<path d="M475.65 833.3V838" stroke="#383838" stroke-width="1"/>
<path d="M492.76 833.3V838" stroke="#383838" stroke-width="1"/>
<path d="M509.88 833.3V838" stroke="#383838" stroke-width="1"/>
<path d="M526.99 833.3V838" stroke="#383838" stroke-width="1"/>
<rect x="42.05" y="688.7" width="5" height="144.6" fill="#000"/>
<path d="M44.55 688.7V668.45" stroke="#333" stroke-width="0.9" fill="none"/>
<path d="M43.05 668.45H46.05" stroke="#000" stroke-width="1.1" fill="none"/>
<rect x="76.28" y="823.8" width="5" height="9.5" fill="#000"/>
<path d="M78.78 823.8V821.65" stroke="#333" stroke-width="0.9" fill="none"/>
<path d="M77.28 821.65H80.28" stroke="#000" stroke-width="1.1" fill="none"/>
<rect x="82.98" y="823.4" width="5" height="9.9" fill="#5e5d62"/>
<path d="M85.48 823.4V818.95" stroke="#3a3a3a" stroke-width="0.9" fill="none"/>
<path d="M83.98 818.95H86.98" stroke="#1a1a1a" stroke-width="1.1" fill="none"/>
<rect x="110.51" y="782" width="5" height="51.3" fill="#000"/>
<path d="M111.51 781.75H114.51" stroke="#000" stroke-width="1.1" fill="none"/>
<rect x="117.21" y="753.3" width="5" height="80" fill="#5e5d62"/>
<path d="M119.71 753.3V742.05" stroke="#3a3a3a" stroke-width="0.9" fill="none"/>
<path d="M118.21 742.05H121.21" stroke="#1a1a1a" stroke-width="1.1" fill="none"/>
<rect x="144.73" y="787.7" width="5" height="45.6" fill="#000"/>
<path d="M147.23 787.7V786.15" stroke="#333" stroke-width="0.9" fill="none"/>
<path d="M145.73 786.15H148.73" stroke="#000" stroke-width="1.1" fill="none"/>
<rect x="151.43" y="798" width="5" height="35.3" fill="#5e5d62"/>
<path d="M153.93 798V788.45" stroke="#3a3a3a" stroke-width="0.9" fill="none"/>
<path d="M152.43 788.45H155.43" stroke="#1a1a1a" stroke-width="1.1" fill="none"/>
<text x="153.93" y="785.4" font-size="8.2" text-anchor="middle" font-style="italic" fill="#2a2a2a" stroke="none">#</text>
<rect x="161.85" y="802.3" width="5" height="31" fill="#000"/>
<path d="M164.35 802.3V797.45" stroke="#333" stroke-width="0.9" fill="none"/>
<path d="M162.85 797.45H165.85" stroke="#000" stroke-width="1.1" fill="none"/>
<rect x="168.55" y="794.6" width="5" height="38.7" fill="#5e5d62"/>
<path d="M171.05 794.6V785.85" stroke="#3a3a3a" stroke-width="0.9" fill="none"/>
<path d="M169.55 785.85H172.55" stroke="#1a1a1a" stroke-width="1.1" fill="none"/>
<text x="171.05" y="782.8" font-size="8.2" text-anchor="middle" font-style="italic" fill="#2a2a2a" stroke="none">#</text>
<rect x="178.96" y="800.3" width="5" height="33" fill="#000"/>
<path d="M181.46 800.3V792.25" stroke="#333" stroke-width="0.9" fill="none"/>
<path d="M179.96 792.25H182.96" stroke="#000" stroke-width="1.1" fill="none"/>
<rect x="185.66" y="801" width="5" height="32.3" fill="#5e5d62"/>
<path d="M188.16 801V793.05" stroke="#3a3a3a" stroke-width="0.9" fill="none"/>
<path d="M186.66 793.05H189.66" stroke="#1a1a1a" stroke-width="1.1" fill="none"/>
<text x="188.16" y="789.2" font-size="8.2" text-anchor="middle" font-style="italic" fill="#2a2a2a" stroke="none">#</text>
<rect x="213.19" y="783.1" width="5" height="50.2" fill="#000"/>
<path d="M215.69 783.1V780.75" stroke="#333" stroke-width="0.9" fill="none"/>
<path d="M214.19 780.75H217.19" stroke="#000" stroke-width="1.1" fill="none"/>
<rect x="219.89" y="783.1" width="5" height="50.2" fill="#5e5d62"/>
<path d="M222.39 783.1V780.75" stroke="#3a3a3a" stroke-width="0.9" fill="none"/>
<path d="M220.89 780.75H223.89" stroke="#1a1a1a" stroke-width="1.1" fill="none"/>
<text x="222.39" y="773.1" font-size="8.2" text-anchor="middle" font-style="italic" fill="#2a2a2a" stroke="none">#</text>
<rect x="230.3" y="786.4" width="5" height="46.9" fill="#000"/>
<path d="M231.3 786.15H234.3" stroke="#000" stroke-width="1.1" fill="none"/>
<rect x="237" y="801.5" width="5" height="31.8" fill="#5e5d62"/>
<path d="M239.5 801.5V800.25" stroke="#3a3a3a" stroke-width="0.9" fill="none"/>
<path d="M238 800.25H241" stroke="#1a1a1a" stroke-width="1.1" fill="none"/>
<text x="239.5" y="793.6" font-size="8.2" text-anchor="middle" font-style="italic" fill="#2a2a2a" stroke="none">#</text>
<rect x="247.42" y="801.5" width="5" height="31.8" fill="#000"/>
<path d="M248.42 801.25H251.42" stroke="#000" stroke-width="1.1" fill="none"/>
<rect x="254.12" y="806.9" width="5" height="26.4" fill="#5e5d62"/>
<path d="M256.62 806.9V805.15" stroke="#3a3a3a" stroke-width="0.9" fill="none"/>
<path d="M255.12 805.15H258.12" stroke="#1a1a1a" stroke-width="1.1" fill="none"/>
<text x="256.62" y="800" font-size="8.2" text-anchor="middle" font-style="italic" fill="#2a2a2a" stroke="none">#</text>
<rect x="281.65" y="793.8" width="5" height="39.5" fill="#000"/>
<path d="M284.15 793.8V790.55" stroke="#333" stroke-width="0.9" fill="none"/>
<path d="M282.65 790.55H285.65" stroke="#000" stroke-width="1.1" fill="none"/>
<rect x="288.35" y="790" width="5" height="43.3" fill="#5e5d62"/>
<path d="M290.85 790V788.45" stroke="#3a3a3a" stroke-width="0.9" fill="none"/>
<path d="M289.35 788.45H292.35" stroke="#1a1a1a" stroke-width="1.1" fill="none"/>
<text x="290.85" y="783.8" font-size="8.2" text-anchor="middle" font-style="italic" fill="#2a2a2a" stroke="none">#</text>
<rect x="298.76" y="782.6" width="5" height="50.7" fill="#000"/>
<path d="M301.26 782.6V779.45" stroke="#333" stroke-width="0.9" fill="none"/>
<path d="M299.76 779.45H302.76" stroke="#000" stroke-width="1.1" fill="none"/>
<rect x="305.46" y="790" width="5" height="43.3" fill="#5e5d62"/>
<path d="M307.96 790V786.45" stroke="#3a3a3a" stroke-width="0.9" fill="none"/>
<path d="M306.46 786.45H309.46" stroke="#1a1a1a" stroke-width="1.1" fill="none"/>
<text x="307.96" y="780.2" font-size="8.2" text-anchor="middle" font-style="italic" fill="#2a2a2a" stroke="none">#</text>
<rect x="315.87" y="784.9" width="5" height="48.4" fill="#000"/>
<path d="M318.37 784.9V781.55" stroke="#333" stroke-width="0.9" fill="none"/>
<path d="M316.87 781.55H319.87" stroke="#000" stroke-width="1.1" fill="none"/>
<rect x="322.57" y="804.1" width="5" height="29.2" fill="#5e5d62"/>
<path d="M325.07 804.1V801.25" stroke="#3a3a3a" stroke-width="0.9" fill="none"/>
<path d="M323.57 801.25H326.57" stroke="#1a1a1a" stroke-width="1.1" fill="none"/>
<text x="325.07" y="796.6" font-size="8.2" text-anchor="middle" font-style="italic" fill="#2a2a2a" stroke="none">#</text>
<rect x="350.1" y="777.4" width="5" height="55.9" fill="#000"/>
<path d="M351.1 777.25H354.1" stroke="#000" stroke-width="1.1" fill="none"/>
<rect x="356.8" y="800.5" width="5" height="32.8" fill="#5e5d62"/>
<path d="M357.8 800.25H360.8" stroke="#1a1a1a" stroke-width="1.1" fill="none"/>
<text x="359.3" y="794.8" font-size="8.2" text-anchor="middle" font-style="italic" fill="#2a2a2a" stroke="none">#</text>
<rect x="367.22" y="791.3" width="5" height="42" fill="#000"/>
<path d="M369.72 791.3V776.95" stroke="#333" stroke-width="0.9" fill="none"/>
<path d="M368.22 776.95H371.22" stroke="#000" stroke-width="1.1" fill="none"/>
<rect x="373.92" y="801.8" width="5" height="31.5" fill="#5e5d62"/>
<path d="M376.42 801.8V800.55" stroke="#3a3a3a" stroke-width="0.9" fill="none"/>
<path d="M374.92 800.55H377.92" stroke="#1a1a1a" stroke-width="1.1" fill="none"/>
<text x="376.42" y="794.8" font-size="8.2" text-anchor="middle" font-style="italic" fill="#2a2a2a" stroke="none">#</text>
<rect x="384.33" y="811.3" width="5" height="22" fill="#000"/>
<path d="M385.33 811.05H388.33" stroke="#000" stroke-width="1.1" fill="none"/>
<rect x="391.03" y="801" width="5" height="32.3" fill="#5e5d62"/>
<path d="M393.53 801V789.25" stroke="#3a3a3a" stroke-width="0.9" fill="none"/>
<path d="M392.03 789.25H395.03" stroke="#1a1a1a" stroke-width="1.1" fill="none"/>
<text x="393.53" y="785.9" font-size="8.2" text-anchor="middle" font-style="italic" fill="#2a2a2a" stroke="none">#</text>
<rect x="418.56" y="795.1" width="5" height="38.2" fill="#000"/>
<path d="M419.56 794.85H422.56" stroke="#000" stroke-width="1.1" fill="none"/>
<rect x="425.26" y="800.5" width="5" height="32.8" fill="#5e5d62"/>
<path d="M427.76 800.5V799.95" stroke="#3a3a3a" stroke-width="0.9" fill="none"/>
<path d="M426.26 799.95H429.26" stroke="#1a1a1a" stroke-width="1.1" fill="none"/>
<text x="427.76" y="792.3" font-size="8.2" text-anchor="middle" font-style="italic" fill="#2a2a2a" stroke="none">#</text>
<rect x="435.67" y="803.1" width="5" height="30.2" fill="#000"/>
<path d="M436.67 803.05H439.67" stroke="#000" stroke-width="1.1" fill="none"/>
<rect x="442.37" y="805" width="5" height="28.3" fill="#5e5d62"/>
<path d="M444.87 805V803.35" stroke="#3a3a3a" stroke-width="0.9" fill="none"/>
<path d="M443.37 803.35H446.37" stroke="#1a1a1a" stroke-width="1.1" fill="none"/>
<text x="444.87" y="797.4" font-size="8.2" text-anchor="middle" font-style="italic" fill="#2a2a2a" stroke="none">#</text>
<rect x="452.79" y="795.5" width="5" height="37.8" fill="#000"/>
<path d="M455.29 795.5V790.95" stroke="#333" stroke-width="0.9" fill="none"/>
<path d="M453.79 790.95H456.79" stroke="#000" stroke-width="1.1" fill="none"/>
<rect x="459.49" y="796.5" width="5" height="36.8" fill="#5e5d62"/>
<path d="M461.99 796.5V788.45" stroke="#3a3a3a" stroke-width="0.9" fill="none"/>
<path d="M460.49 788.45H463.49" stroke="#1a1a1a" stroke-width="1.1" fill="none"/>
<text x="461.99" y="782.5" font-size="8.2" text-anchor="middle" font-style="italic" fill="#2a2a2a" stroke="none">#</text>
<rect x="487.01" y="800.2" width="5" height="33.1" fill="#000"/>
<path d="M489.51 800.2V787.45" stroke="#333" stroke-width="0.9" fill="none"/>
<path d="M488.01 787.45H491.01" stroke="#000" stroke-width="1.1" fill="none"/>
<rect x="493.71" y="783.7" width="5" height="49.6" fill="#5e5d62"/>
<path d="M496.21 783.7V781.05" stroke="#3a3a3a" stroke-width="0.9" fill="none"/>
<path d="M494.71 781.05H497.71" stroke="#1a1a1a" stroke-width="1.1" fill="none"/>
<text x="496.21" y="776.4" font-size="8.2" text-anchor="middle" font-style="italic" fill="#2a2a2a" stroke="none">#</text>
<rect x="504.13" y="786.6" width="5" height="46.7" fill="#000"/>
<path d="M506.63 786.6V773.45" stroke="#333" stroke-width="0.9" fill="none"/>
<path d="M505.13 773.45H508.13" stroke="#000" stroke-width="1.1" fill="none"/>
<rect x="510.83" y="785.6" width="5" height="47.7" fill="#5e5d62"/>
<path d="M513.33 785.6V785.25" stroke="#3a3a3a" stroke-width="0.9" fill="none"/>
<path d="M511.83 785.25H514.83" stroke="#1a1a1a" stroke-width="1.1" fill="none"/>
<text x="513.33" y="781.6" font-size="8.2" text-anchor="middle" font-style="italic" fill="#2a2a2a" stroke="none">#</text>
<rect x="521.24" y="800.8" width="5" height="32.5" fill="#000"/>
<path d="M523.74 800.8V795.75" stroke="#333" stroke-width="0.9" fill="none"/>
<path d="M522.24 795.75H525.24" stroke="#000" stroke-width="1.1" fill="none"/>
<rect x="527.94" y="802.1" width="5" height="31.2" fill="#5e5d62"/>
<path d="M530.44 802.1V797.55" stroke="#3a3a3a" stroke-width="0.9" fill="none"/>
<path d="M528.94 797.55H531.94" stroke="#1a1a1a" stroke-width="1.1" fill="none"/>
<text x="530.44" y="792.3" font-size="8.2" text-anchor="middle" font-style="italic" fill="#2a2a2a" stroke="none">#</text>
<text x="112.4" y="773.9" font-size="10.5" text-anchor="middle" fill="#1a1a1a">a</text>
<text x="119.6" y="739.2" font-size="11.8" text-anchor="middle" fill="#1a1a1a">b</text>
<text transform="translate(48.8,844.4) rotate(-90)" text-anchor="end" font-size="10.5" fill="#1a1a1a">H<tspan font-size="5.6" dy="3.9">2</tspan><tspan dy="-3.9">O</tspan><tspan font-size="5.6" dy="3.9">2</tspan><tspan dy="-3.9"> 100 μM</tspan></text>
<text transform="translate(84.73,844.4) rotate(-90)" text-anchor="end" font-size="10.5" fill="#1a1a1a" textLength="18.6" lengthAdjust="spacingAndGlyphs">BSA</text>
<text transform="translate(118.96,844.4) rotate(-90)" text-anchor="end" font-size="10.5" fill="#1a1a1a">Glycated BSA</text>
<text transform="translate(153.18,844.4) rotate(-90)" text-anchor="end" font-size="10.5" fill="#1a1a1a">Gal (1.25 μM)</text>
<text transform="translate(170.3,844.4) rotate(-90)" text-anchor="end" font-size="10.5" fill="#1a1a1a">Gal (2.5 μM)</text>
<text transform="translate(187.41,844.4) rotate(-90)" text-anchor="end" font-size="10.5" fill="#1a1a1a">Gal (5 μM)</text>
<text transform="translate(221.64,844.4) rotate(-90)" text-anchor="end" font-size="10.5" fill="#1a1a1a">SYR (1.25 μM)</text>
<text transform="translate(238.75,844.4) rotate(-90)" text-anchor="end" font-size="10.5" fill="#1a1a1a">SYR (2.5 μM)</text>
<text transform="translate(255.87,844.4) rotate(-90)" text-anchor="end" font-size="10.5" fill="#1a1a1a">SYR (5 μM)</text>
<text transform="translate(290.1,844.4) rotate(-90)" text-anchor="end" font-size="10.5" fill="#1a1a1a">Ela (1.25 μM)</text>
<text transform="translate(307.21,844.4) rotate(-90)" text-anchor="end" font-size="10.5" fill="#1a1a1a">Ela (2.5 μM)</text>
<text transform="translate(324.32,844.4) rotate(-90)" text-anchor="end" font-size="10.5" fill="#1a1a1a">Ela (5 μM)</text>
<text transform="translate(358.55,844.4) rotate(-90)" text-anchor="end" font-size="10.5" fill="#1a1a1a">Fer (1.25 μM)</text>
<text transform="translate(375.67,844.4) rotate(-90)" text-anchor="end" font-size="10.5" fill="#1a1a1a">Fer (2.5 μM)</text>
<text transform="translate(392.78,844.4) rotate(-90)" text-anchor="end" font-size="10.5" fill="#1a1a1a">Fer (5 μM)</text>
<text transform="translate(427.01,844.4) rotate(-90)" text-anchor="end" font-size="10.5" fill="#1a1a1a">Com (1.25 μM)</text>
<text transform="translate(444.12,844.4) rotate(-90)" text-anchor="end" font-size="10.5" fill="#1a1a1a">Com (2.5 μM)</text>
<text transform="translate(461.24,844.4) rotate(-90)" text-anchor="end" font-size="10.5" fill="#1a1a1a">Com (5 μM)</text>
<text transform="translate(495.46,844.4) rotate(-90)" text-anchor="end" font-size="10.5" fill="#1a1a1a">Caf (1.25 μM)</text>
<text transform="translate(512.58,844.4) rotate(-90)" text-anchor="end" font-size="10.5" fill="#1a1a1a">Caf (2.5 μM)</text>
<text transform="translate(529.69,844.4) rotate(-90)" text-anchor="end" font-size="10.5" fill="#1a1a1a">Caf (5 μM)</text>
<rect x="38.2" y="932.3" width="18.4" height="9.4" fill="#000"/>
<rect x="38.2" y="946" width="18.4" height="9.2" fill="#5e5d62"/>
<text x="63.7" y="939.4" font-size="10.5" fill="#1a1a1a">4 weeks</text>
<text x="63.7" y="952.9" font-size="10.5" fill="#1a1a1a">6 weeks</text>
</svg>
</body></html>
